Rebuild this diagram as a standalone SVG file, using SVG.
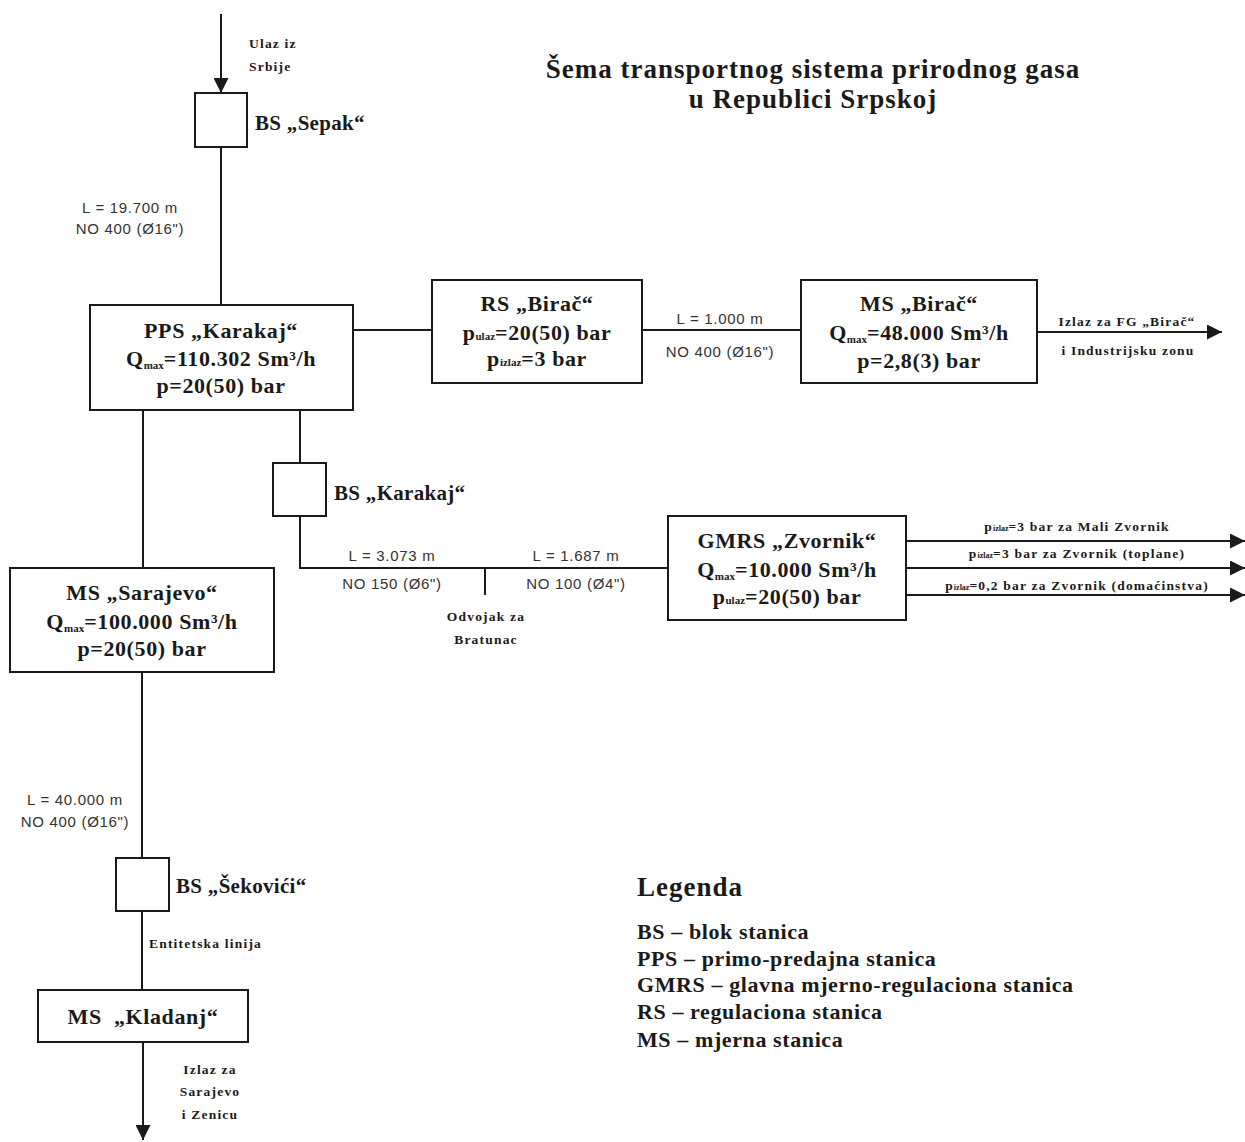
<svg xmlns="http://www.w3.org/2000/svg" width="1245" height="1142" viewBox="0 0 1245 1142">
  <style>
    .box { fill: #fff; stroke: #1a1a1a; stroke-width: 2; }
    .pipe { fill: none; stroke: #1a1a1a; stroke-width: 2; }
    .t { font-family: "Liberation Serif", "Times New Roman", serif; font-weight: bold; fill: #1a1a1a; }
    .big { font-size: 22px; letter-spacing: 0.6px; }
    .bs { font-size: 21px; letter-spacing: 0.3px; }
    .mid { font-size: 22px; letter-spacing: 0.6px; }
    .head { font-size: 27px; letter-spacing: 1px; }
    .sm { font-size: 13.5px; letter-spacing: 1.2px; }
    .sub { font-size: 11px; letter-spacing: 0; }
    .s { font-family: "Liberation Sans", Arial, sans-serif; font-size: 15px; letter-spacing: 0.7px; fill: #333; }
    .c { text-anchor: middle; }
  </style>
  <defs>
    <marker id="arrBig" viewBox="0 0 10 10" refX="10" refY="5" markerWidth="15" markerHeight="15" markerUnits="userSpaceOnUse" orient="auto">
      <path d="M0,0 L10,5 L0,10 z" fill="#1a1a1a"/>
    </marker>
  </defs>

  <rect width="1245" height="1142" fill="#fff"/>

  <!-- title -->
  <g id="title">
    <text class="t c head" x="813" y="78">Šema transportnog sistema prirodnog gasa</text>
    <text class="t c head" x="813" y="108">u Republici Srpskoj</text>
  </g>

  <!-- pipelines -->
  <g id="connectors">
    <line class="pipe" x1="221" y1="14" x2="221" y2="93" marker-end="url(#arrBig)"/>
    <line class="pipe" x1="221" y1="147" x2="221" y2="305"/>
    <line class="pipe" x1="353" y1="330" x2="432" y2="330"/>
    <line class="pipe" x1="642" y1="330" x2="801" y2="330"/>
    <line class="pipe" x1="1037" y1="332" x2="1222" y2="332" marker-end="url(#arrBig)"/>
    <line class="pipe" x1="143" y1="410" x2="143" y2="568"/>
    <line class="pipe" x1="300" y1="410" x2="300" y2="463"/>
    <polyline class="pipe" points="300,516 300,568 668,568"/>
    <line class="pipe" x1="485" y1="568" x2="485" y2="595"/>
    <line class="pipe" x1="906" y1="541" x2="1245" y2="541" marker-end="url(#arrBig)"/>
    <line class="pipe" x1="906" y1="568" x2="1245" y2="568" marker-end="url(#arrBig)"/>
    <line class="pipe" x1="906" y1="595" x2="1245" y2="595" marker-end="url(#arrBig)"/>
    <line class="pipe" x1="142" y1="672" x2="142" y2="858"/>
    <line class="pipe" x1="142" y1="911" x2="142" y2="990"/>
    <line class="pipe" x1="143" y1="1042" x2="143" y2="1140" marker-end="url(#arrBig)"/>
  </g>

  <!-- pipe labels -->
  <g id="pipe-labels">
    <text class="t sm" x="249" y="48">Ulaz iz</text>
    <text class="t sm" x="249" y="71">Srbije</text>
    <text class="s c" x="130" y="213">L = 19.700 m</text>
    <text class="s c" x="130" y="234">NO 400 (Ø16")</text>
    <text class="s c" x="720" y="324">L = 1.000 m</text>
    <text class="s c" x="720" y="357">NO 400 (Ø16")</text>
    <text class="t sm c" x="1127" y="326">Izlaz za FG „Birač“</text>
    <text class="t sm c" x="1128" y="355">i Industrijsku zonu</text>
    <text class="s c" x="392" y="561">L = 3.073 m</text>
    <text class="s c" x="392" y="589">NO 150 (Ø6")</text>
    <text class="s c" x="576" y="561">L = 1.687 m</text>
    <text class="s c" x="576" y="589">NO 100 (Ø4")</text>
    <text class="t sm c" x="486" y="621">Odvojak za</text>
    <text class="t sm c" x="486" y="644">Bratunac</text>
    <text class="t sm c" x="1077" y="531">p<tspan font-size="8" letter-spacing="0">izlaz</tspan>=3 bar za Mali Zvornik</text>
    <text class="t sm c" x="1077" y="558">p<tspan font-size="8" letter-spacing="0">izlaz</tspan>=3 bar za Zvornik (toplane)</text>
    <text class="t sm c" x="1077" y="590">p<tspan font-size="8" letter-spacing="0">izlaz</tspan>=0,2 bar za Zvornik (domaćinstva)</text>
    <text class="s c" x="75" y="805">L = 40.000 m</text>
    <text class="s c" x="75" y="827">NO 400 (Ø16")</text>
    <text class="t sm" x="149" y="948">Entitetska linija</text>
    <text class="t sm c" x="210" y="1074">Izlaz za</text>
    <text class="t sm c" x="210" y="1096">Sarajevo</text>
    <text class="t sm c" x="210" y="1119">i Zenicu</text>
  </g>

  <!-- BS Sepak -->
  <g id="bs-sepak">
    <rect class="box" x="195" y="93" width="52" height="54"/>
    <text class="t bs" x="255" y="130">BS „Sepak“</text>
  </g>

  <!-- PPS Karakaj -->
  <g id="pps-karakaj">
    <rect class="box" x="90" y="305" width="263" height="105"/>
    <text class="t big c" x="221" y="338">PPS „Karakaj“</text>
    <text class="t big c" x="221" y="366">Q<tspan class="sub" dy="3">max</tspan><tspan dy="-3">=110.302 Sm³/h</tspan></text>
    <text class="t big c" x="221" y="393">p=20(50) bar</text>
  </g>

  <!-- RS Birac -->
  <g id="rs-birac">
    <rect class="box" x="432" y="280" width="210" height="103"/>
    <text class="t big c" x="537" y="311">RS „Birač“</text>
    <text class="t big c" x="537" y="340">p<tspan class="sub">ulaz</tspan>=20(50) bar</text>
    <text class="t big c" x="537" y="366">p<tspan class="sub">izlaz</tspan>=3 bar</text>
  </g>

  <!-- MS Birac -->
  <g id="ms-birac">
    <rect class="box" x="801" y="280" width="236" height="103"/>
    <text class="t big c" x="919" y="311">MS „Birač“</text>
    <text class="t big c" x="919" y="340">Q<tspan class="sub" dy="3">max</tspan><tspan dy="-3">=48.000 Sm³/h</tspan></text>
    <text class="t big c" x="919" y="368">p=2,8(3) bar</text>
  </g>

  <!-- BS Karakaj -->
  <g id="bs-karakaj">
    <rect class="box" x="273" y="463" width="53" height="53"/>
    <text class="t bs" x="334" y="500">BS „Karakaj“</text>
  </g>

  <!-- GMRS Zvornik -->
  <g id="gmrs-zvornik">
    <rect class="box" x="668" y="516" width="238" height="104"/>
    <text class="t big c" x="787" y="548">GMRS „Zvornik“</text>
    <text class="t big c" x="787" y="577">Q<tspan class="sub" dy="3">max</tspan><tspan dy="-3">=10.000 Sm³/h</tspan></text>
    <text class="t big c" x="787" y="604">p<tspan class="sub">ulaz</tspan>=20(50) bar</text>
  </g>

  <!-- MS Sarajevo -->
  <g id="ms-sarajevo">
    <rect class="box" x="10" y="568" width="264" height="104"/>
    <text class="t big c" x="142" y="600">MS „Sarajevo“</text>
    <text class="t big c" x="142" y="629">Q<tspan class="sub" dy="3">max</tspan><tspan dy="-3">=100.000 Sm³/h</tspan></text>
    <text class="t big c" x="142" y="656">p=20(50) bar</text>
  </g>

  <!-- BS Sekovici -->
  <g id="bs-sekovici">
    <rect class="box" x="116" y="858" width="53" height="53"/>
    <text class="t bs" x="176" y="893">BS „Šekovići“</text>
  </g>

  <!-- MS Kladanj -->
  <g id="ms-kladanj">
    <rect class="box" x="38" y="990" width="210" height="52"/>
    <text class="t big c" x="143" y="1024" xml:space="preserve">MS  „Kladanj“</text>
  </g>

  <!-- legend -->
  <g id="legend">
    <text class="t head" x="637" y="896" letter-spacing="0.5">Legenda</text>
    <text class="t mid" x="637" y="939">BS – blok stanica</text>
    <text class="t mid" x="637" y="966">PPS – primo-predajna stanica</text>
    <text class="t mid" x="637" y="992">GMRS – glavna mjerno-regulaciona stanica</text>
    <text class="t mid" x="637" y="1019">RS – regulaciona stanica</text>
    <text class="t mid" x="637" y="1047">MS – mjerna stanica</text>
  </g>
</svg>
